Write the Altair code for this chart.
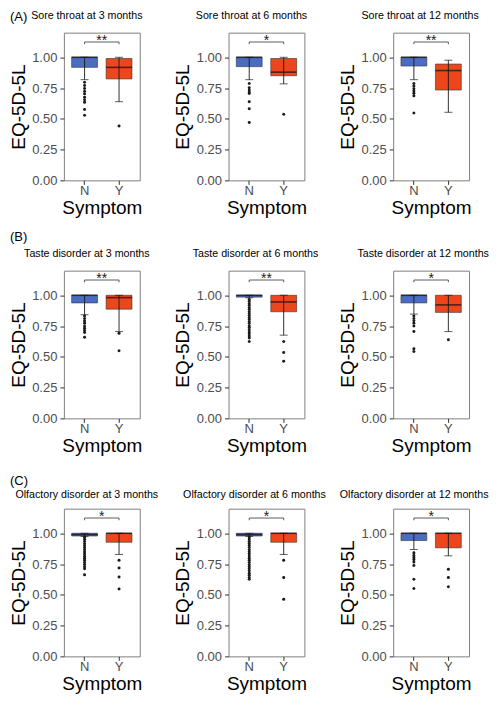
import altair as alt
import pandas as pd

groups = ["N", "Y"]
row_labels = ["(A)", "(B)", "(C)"]
titles = [
    "Sore throat at 3 months", "Sore throat at 6 months", "Sore throat at 12 months",
    "Taste disorder at 3 months", "Taste disorder at 6 months", "Taste disorder at 12 months",
    "Olfactory disorder at 3 months", "Olfactory disorder at 6 months", "Olfactory disorder at 12 months",
]
signif = ["**", "*", "**", "**", "**", "*", "*", "*", "*"]
y_ticks = [0.0, 0.25, 0.5, 0.75, 1.0]

# [lower whisker, Q1, median, Q3, upper whisker]
stats_n = [
    [0.818, 0.918, 1.000, 1.000, 1.000],
    [0.818, 0.924, 1.000, 1.000, 1.000],
    [0.818, 0.929, 1.000, 1.000, 1.000],
    [0.842, 0.938, 1.000, 1.000, 1.000],
    [0.980, 0.985, 1.000, 1.000, 1.000],
    [0.847, 0.938, 1.000, 1.000, 1.000],
    [0.975, 0.978, 0.990, 1.000, 1.000],
    [0.975, 0.978, 0.990, 1.000, 1.000],
    [0.868, 0.941, 1.000, 1.000, 1.000],
]
stats_y = [
    [0.639, 0.824, 0.918, 0.990, 1.000],
    [0.784, 0.850, 0.879, 0.990, 1.000],
    [0.553, 0.734, 0.892, 0.945, 0.976],
    [0.705, 0.887, 0.981, 1.000, 1.000],
    [0.676, 0.866, 0.946, 1.000, 1.000],
    [0.705, 0.861, 0.922, 1.000, 1.000],
    [0.828, 0.927, 1.000, 1.000, 1.000],
    [0.828, 0.927, 1.000, 1.000, 1.000],
    [0.817, 0.882, 1.000, 1.000, 1.000],
]
out_n = [
    [0.797, 0.771, 0.747, 0.724, 0.703, 0.676, 0.655, 0.634, 0.576, 0.529],
    [0.787, 0.753, 0.734, 0.718, 0.705, 0.639, 0.582, 0.471],
    [0.787, 0.766, 0.745, 0.726, 0.708, 0.687, 0.547],
    [0.831, 0.812, 0.791, 0.772, 0.751, 0.732, 0.713, 0.697, 0.660],
    [0.966, 0.949, 0.931, 0.917, 0.899, 0.884, 0.866, 0.853, 0.836, 0.818, 0.803,
     0.786, 0.770, 0.751, 0.738, 0.719, 0.701, 0.688, 0.669, 0.652, 0.625],
    [0.831, 0.812, 0.794, 0.772, 0.751, 0.705, 0.566, 0.544],
    [0.968, 0.951, 0.934, 0.916, 0.899, 0.882, 0.866, 0.849, 0.831, 0.813, 0.797,
     0.781, 0.763, 0.746, 0.729, 0.712, 0.664],
    [0.970, 0.953, 0.935, 0.918, 0.901, 0.884, 0.866, 0.850, 0.833, 0.815, 0.797,
     0.781, 0.763, 0.745, 0.729, 0.712, 0.695, 0.676, 0.659, 0.641, 0.626],
    [0.841, 0.820, 0.804, 0.788, 0.766, 0.739, 0.626, 0.551],
]
out_y = [
    [0.442],
    [0.537],
    [],
    [0.692, 0.550],
    [0.625, 0.536, 0.464],
    [0.638],
    [0.780, 0.718, 0.645, 0.548],
    [0.780, 0.640, 0.465],
    [0.707, 0.640, 0.565],
]

y_max = 1.2
bracket_top = 1.124
bracket_low = 1.106
star_base = 1.100
fill_colors = ["#4A6CC4", "#EE461C"]
# horizontal shift of each panel title from its frame centre
title_dx = [-15, -15, -11,
            -15, -11, -8,
            -15, -12, -17]
title_dy = [-14, -14, -11]       # baseline of panel titles above the frame top
label_dy = [-12, -30, -24]       # baseline of (A)/(B)/(C) above the frame top

FONT = "Liberation Sans"
PW, PH = 76, 148


def panel(i):
    r, c = divmod(i, 3)
    box = pd.DataFrame({
        "g": groups,
        "lw": [stats_n[i][0], stats_y[i][0]],
        "q1": [stats_n[i][1], stats_y[i][1]],
        "med": [stats_n[i][2], stats_y[i][2]],
        "q3": [stats_n[i][3], stats_y[i][3]],
        "uw": [stats_n[i][4], stats_y[i][4]],
    })
    outs = pd.DataFrame({
        "g": ["N"] * len(out_n[i]) + ["Y"] * len(out_y[i]),
        "v": out_n[i] + out_y[i],
    })
    br = pd.DataFrame({
        "g": ["N", "N", "Y", "Y"],
        "v": [bracket_low, bracket_top, bracket_top, bracket_low],
        "o": [0, 1, 2, 3],
    })
    st = pd.DataFrame({"g": ["N"], "v": [star_base], "s": [signif[i]]})
    tt = pd.DataFrame({"g": ["N"], "v": [y_max], "t": [titles[i]]})

    xscale = alt.Scale(type="band", domain=groups, paddingInner=0, paddingOuter=0.1)
    yscale = alt.Scale(domain=[0, y_max], nice=False, zero=True)
    xaxis = alt.Axis(title="Symptom", labelAngle=0)
    yaxis = alt.Axis(title="EQ-5D-5L", values=y_ticks, format=".2f", labelOverlap=False)

    def X(**kw):
        return alt.X("g:N", scale=xscale, axis=xaxis, **kw)

    def Y(field):
        return alt.Y(field, scale=yscale, axis=yaxis)

    base = alt.Chart(box)
    boxes = base.mark_bar(width={"band": 0.75}, stroke="#333333", strokeWidth=0.6).encode(
        x=X(), y=Y("q1:Q"), y2="q3:Q",
        fill=alt.Fill("g:N", scale=alt.Scale(domain=groups, range=fill_colors), legend=None),
    )
    whisk = base.mark_rule(color="#1a1a1a", strokeWidth=0.9).encode(
        x=X(), y=Y("lw:Q"), y2="uw:Q")
    cap_lo = base.mark_tick(size=8, thickness=1, color="#1a1a1a").encode(x=X(), y=Y("lw:Q"))
    cap_hi = base.mark_tick(size=8, thickness=1, color="#1a1a1a").encode(x=X(), y=Y("uw:Q"))
    med = base.mark_tick(size=26, thickness=1.6, color="#111111").encode(x=X(), y=Y("med:Q"))
    pts = alt.Chart(outs).mark_circle(size=9, color="#1a1a1a", opacity=1).encode(
        x=X(), y=Y("v:Q"))
    brk = alt.Chart(br).mark_line(color="#333333", strokeWidth=0.8).encode(
        x=X(), y=Y("v:Q"), order="o:Q")
    stars = alt.Chart(st).mark_text(fontSize=14, baseline="alphabetic", align="center",
                                     color="#1a1a1a", font=FONT).encode(
        x=X(bandPosition=1), y=Y("v:Q"), text="s:N")
    ttl = alt.Chart(tt).mark_text(fontSize=10.7, baseline="alphabetic", align="center",
                                   color="black", font=FONT,
                                   dx=title_dx[i], dy=title_dy[r]).encode(
        x=X(bandPosition=1), y=Y("v:Q"), text="t:N")

    layers = [boxes, whisk, cap_lo, cap_hi, med, pts, brk, stars, ttl]
    if c == 0:
        lab = alt.Chart(pd.DataFrame({"lab": [row_labels[r]]})).mark_text(
            align="left", baseline="alphabetic", fontSize=13, font=FONT, color="black"
        ).encode(text="lab:N", x=alt.value(-54), y=alt.value(label_dy[r]))
        layers.append(lab)

    return alt.layer(*layers).properties(width=PW, height=PH)


chart = alt.concat(
    *[panel(i) for i in range(9)], columns=3, bounds="flush",
    spacing={"row": 90.5, "column": 89},
).properties(padding=0).configure_view(
    stroke="#7F7F7F", strokeWidth=1
).configure_axis(
    grid=False, domain=False, tickColor="#333333", tickSize=4, labelOverlap=False,
    labelFont=FONT, titleFont=FONT, labelFontSize=13, labelColor="#4D4D4D",
    titleFontSize=19, titleFontWeight="normal", titleColor="black",
).configure_axisY(
    labelPadding=3, titlePadding=3.5,
).configure_axisX(
    labelPadding=0, titlePadding=1,
)

chart.save("out.html", embed_options={"renderer": "svg", "actions": False})
